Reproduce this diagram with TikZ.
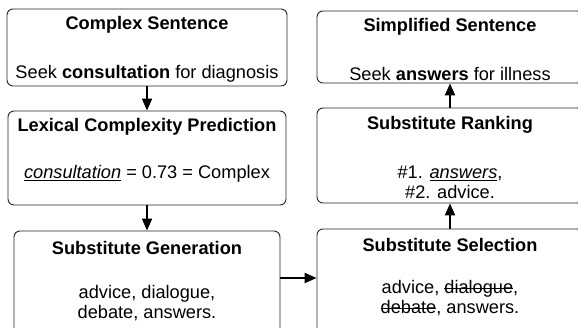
\documentclass[tikz,border=0pt]{standalone}
\usepackage{fontspec}
\setmainfont{Liberation Sans}
\usetikzlibrary{arrows.meta}
\newlength\wordlen
\newcommand\ulword[1]{\settowidth\wordlen{#1}\rlap{\rule[-2.6pt]{\wordlen}{0.8pt}}#1}
\newcommand\stword[1]{\settowidth\wordlen{#1}\rlap{\rule[5.1pt]{\wordlen}{0.8pt}}#1}
\begin{document}
\begin{tikzpicture}[x=1pt,y=-1pt,
  box/.style={draw=black!85, line width=0.9pt, rounded corners=6pt, inner sep=0},
  ttl/.style={font=\fontsize{18.2}{20}\selectfont\bfseries, inner sep=0},
  txt/.style={font=\fontsize{18.2}{20}\selectfont, align=center, inner sep=0},
  flow/.style={line width=2pt, -{Triangle[length=12pt,width=10pt]}}]
\useasboundingbox (0,0) rectangle (578,327);
\clip (0,0) rectangle (578,327);
% boxes
\node[box, minimum width=280pt, minimum height=77pt] (a) at (147,47.5) {};
\node[box, minimum width=278pt, minimum height=94pt] (b) at (147,158) {};
\node[box, minimum width=266pt, minimum height=109pt] (c) at (147,285.5) {};
\node[box, minimum width=266pt, minimum height=72pt] (d) at (450,47) {};
\node[box, minimum width=266pt, minimum height=95pt] (e) at (450,155.5) {};
\node[box, minimum width=266pt, minimum height=111pt] (f) at (450,284.5) {};
% texts
\node[ttl] (at) at (147,24.5) {Complex Sentence};
\node[txt] (ax) at (147,73.5) {Seek \textbf{consultation} for diagnosis};
\node[ttl] (bt) at (147,126.5) {Lexical Complexity Prediction};
\node[txt] (bx) at (147,173.5) {\ulword{\textit{consultation}} = 0.73 = Complex};
\node[ttl] (ct) at (147,247.5) {Substitute Generation};
\node[txt] (cx) at (147,303) {advice, dialogue,\\debate, answers.};
\node[ttl] (dt) at (450,26.5) {Simplified Sentence};
\node[txt] (dx) at (450,73.5) {Seek \textbf{answers} for illness};
\node[ttl] (et) at (450,124.5) {Substitute Ranking};
\node[txt] (ex) at (450,182) {\#1. \ulword{\textit{answers}},\\\#2. advice.};
\node[ttl] (ft) at (450,244.5) {Substitute Selection};
\node[txt] (fx) at (450,298.5) {advice, \stword{dialogue},\\\stword{debate}, answers.};
% connectors
\coordinate (h) at (0,278);
\draw[flow] (a.south) -- (b.north);
\draw[flow] (b.south) -- (c.north);
\draw[flow] (c.east |- h) -- (f.west |- h);
\draw[flow] (f.north) -- (e.south);
\draw[flow] (e.north) -- (d.south);
\end{tikzpicture}
\end{document}
